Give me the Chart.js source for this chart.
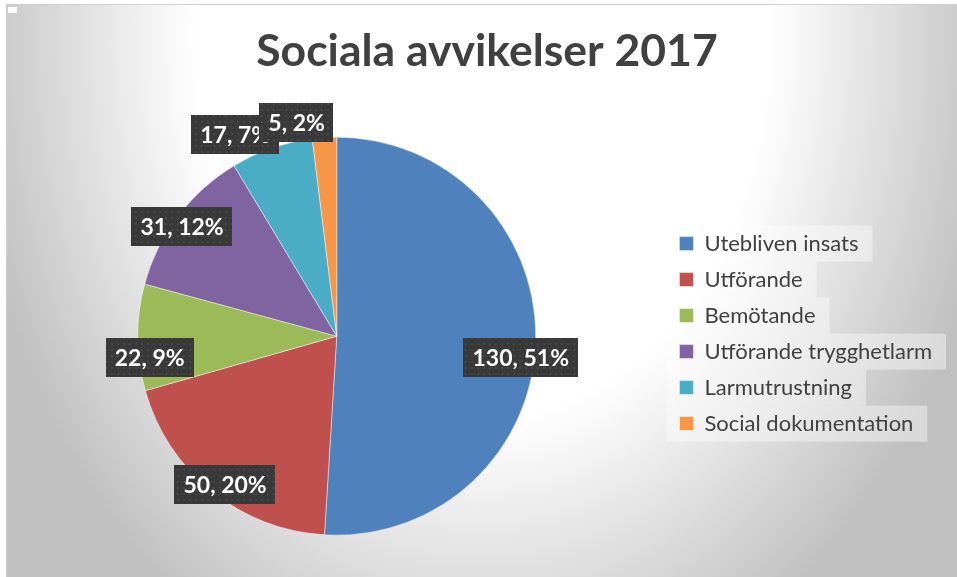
<!DOCTYPE html>
<html>
<head>
<meta charset="utf-8">
<script src="https://cdn.jsdelivr.net/npm/chart.js@4"></script>
<style>
  html, body { margin: 0; padding: 0; background: #ffffff; }
  #frame {
    position: absolute; left: 6px; top: 4px; width: 951px; height: 573px;
    box-sizing: border-box;
    border-top: 1px solid #cfcfcf; border-left: 1px solid #cfcfcf;
    background: radial-gradient(ellipse 520px 700px at 50% 5%, #ffffff 55%, #c0c0c0 100%);
  }
  #mark { position: absolute; left: 8px; top: 7px; width: 9px; height: 6px; background: #ffffff; }
  #wrap { position: absolute; left: 0; top: 0; width: 950px; height: 572px; }
</style>
</head>
<body>
<div id="frame"><div id="wrap"><canvas id="pie"></canvas></div></div>
<div id="mark"></div>
<script>
/* Sociala avvikelser 2017 - cirkeldiagram */

const titleText = "Sociala avvikelser 2017";
const categories = ["Utebliven insats", "Utförande", "Bemötande", "Utförande trygghetlarm", "Larmutrustning", "Social dokumentation"];
const counts = [130, 50, 22, 31, 17, 5];
const sliceColors = ["#4f81bd", "#c0504d", "#9bbb59", "#8064a2", "#4bacc6", "#f79646"];

// var etikett hamnar: andel av radien längs mittvinkeln + liten knuff
const labelPlace = [
  { f: 0.925, dx: 0, dy: 16 },
  { f: 0.935, dx: 5, dy: 3 },
  { f: 0.94, dx: 0, dy: 20 },
  { f: 0.955, dx: -3, dy: 5 },
  { f: 1.07, dx: -32, dy: 0 },
  { f: 1.07, dx: -27, dy: -1 }
];

const FONT = "Lato, 'Open Sans', sans-serif";

/**
 * mörkt prickigt mönster för etikettrutor
 */
function makeDots(ctx) {
  const c = document.createElement("canvas");
  c.width = 6; c.height = 6;
  const p = c.getContext("2d");
  p.fillStyle = "#393939";
  p.fillRect(0, 0, 6, 6);
  p.fillStyle = "#474747";
  p.fillRect(2, 2, 2, 2);
  return ctx.createPattern(c, "repeat");
}

// rubriken sitter lite till höger om mitten i originalet
const titleNudge = {
  id: "titleNudge",
  afterLayout(chart) {
    const t = chart.titleBlock;
    if (t) { t.left += 12; t.right += 12; }
  }
};

// ljusa rutor bakom legendraderna
const legendBacks = {
  id: "legendBacks",
  beforeDraw(chart) {
    const lg = chart.legend;
    if (!lg || !lg.legendHitBoxes) return;
    const ctx = chart.ctx;
    ctx.save();
    ctx.fillStyle = "rgba(255,255,255,0.4)";
    lg.legendHitBoxes.forEach(hb => {
      const cy = hb.top + hb.height / 2;
      ctx.fillRect(hb.left - 13, cy - 18, hb.width + 27, 36);
    });
    ctx.restore();
  }
};

// dataetiketter "värde, procent"
const sliceLabels = {
  id: "sliceLabels",
  afterDatasetsDraw(chart) {
    const ctx = chart.ctx;
    const meta = chart.getDatasetMeta(0);
    const total = counts.reduce((a, b) => a + b, 0);
    const dots = makeDots(ctx);
    ctx.save();
    ctx.font = "bold 23px " + FONT;
    ctx.textAlign = "center";
    ctx.textBaseline = "middle";
    meta.data.forEach((arc, i) => {
      const { x, y, startAngle, endAngle, outerRadius } = arc.getProps(["x", "y", "startAngle", "endAngle", "outerRadius"], true);
      const mid = (startAngle + endAngle) / 2;
      const pl = labelPlace[i];
      const cx = x + Math.cos(mid) * outerRadius * pl.f + pl.dx;
      const cy = y + Math.sin(mid) * outerRadius * pl.f + pl.dy;
      const txt = counts[i] + ", " + Math.round(counts[i] / total * 100) + "%";
      const w = ctx.measureText(txt).width + 18;
      const h = 39;
      ctx.fillStyle = dots;
      ctx.fillRect(Math.round(cx - w / 2), Math.round(cy - h / 2), Math.round(w), h);
      ctx.fillStyle = "#ffffff";
      ctx.fillText(txt, cx, cy + 1);
    });
    ctx.restore();
  }
};

const ctx = document.getElementById("pie").getContext("2d");
new Chart(ctx, {
  type: "pie",
  data: {
    labels: categories,
    datasets: [{
      data: counts,
      backgroundColor: sliceColors,
      borderColor: "rgba(255,255,255,0.45)",
      borderWidth: 1,
      radius: 199
    }]
  },
  options: {
    responsive: true,
    maintainAspectRatio: false,
    animation: false,
    layout: { padding: { left: 1, right: 15, top: 0, bottom: 0 } },
    plugins: {
      title: {
        display: true,
        text: titleText,
        color: "#404040",
        font: { family: FONT, size: 44.5, weight: "bold" },
        padding: { top: 20, bottom: 17 }
      },
      legend: {
        position: "right",
        title: { display: true, text: " ", font: { size: 16 }, padding: 33 },
        labels: {
          color: "#404040",
          font: { family: FONT, size: 22 },
          boxWidth: 14,
          boxHeight: 14,
          padding: 14
        }
      },
      tooltip: { enabled: false }
    }
  },
  plugins: [titleNudge, legendBacks, sliceLabels]
});
</script>
</body>
</html>
